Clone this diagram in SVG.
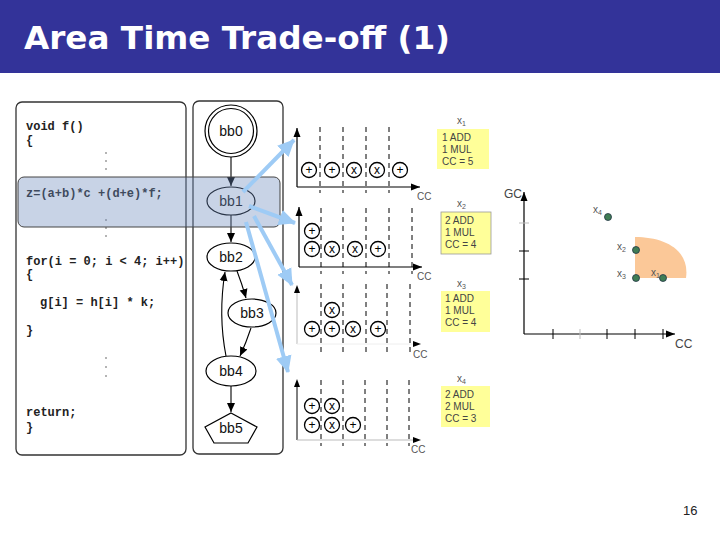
<svg xmlns="http://www.w3.org/2000/svg" width="720" height="540" viewBox="0 0 720 540">
<defs>
<marker id="ah" markerUnits="userSpaceOnUse" markerWidth="10" markerHeight="10" refX="9" refY="5" orient="auto"><path d="M0,1 L9,5 L0,9 Z" fill="#000"/></marker>
<marker id="ax" markerUnits="userSpaceOnUse" markerWidth="10" markerHeight="10" refX="9" refY="5" orient="auto"><path d="M0,1.5 L9,5 L0,8.5 Z" fill="#000"/></marker>
<marker id="bl" markerUnits="userSpaceOnUse" markerWidth="18" markerHeight="18" refX="16" refY="9" orient="auto"><path d="M0,1 L17,9 L0,17 Z" fill="#9ecbf5"/></marker>
</defs>
<style>
.code{font-family:"Liberation Mono","Courier New",monospace;font-size:12px;font-weight:bold;fill:#222}
.dot{fill:#555}
.lbl{font-family:"Liberation Sans",Arial,sans-serif;font-size:14px;fill:#111;text-anchor:middle}
.node{fill:#fff;stroke:#000;stroke-width:1.2}
.edge{fill:none;stroke:#000;stroke-width:1.1;marker-end:url(#ah)}
.blue{fill:none;stroke:#9ecbf5;stroke-width:4;marker-end:url(#bl)}
.dash{stroke:#000;stroke-width:1;stroke-dasharray:5,4}
.axis{stroke:#000;stroke-width:1.2;fill:none}
.op circle{fill:#fff;stroke:#000;stroke-width:1.3}
.op text{font-family:"Liberation Sans",Arial,sans-serif;font-size:12px;text-anchor:middle;fill:#000}
.small{font-family:"Liberation Sans",Arial,sans-serif;font-size:10px;fill:#555}
.box rect{fill:#ffff99}
.box text{font-family:"Liberation Sans",Arial,sans-serif;font-size:10px;fill:#444}
.pt{fill:#3f7d55;stroke:#234;stroke-width:0.8}
</style>
<rect x="0" y="0" width="720" height="73" fill="#333399"/>
<text x="24" y="49" font-family="DejaVu Sans Condensed,DejaVu Sans,Verdana,sans-serif" font-weight="bold" font-size="32" fill="#fff" textLength="426" lengthAdjust="spacingAndGlyphs">Area Time Trade-off (1)</text>

<g id="code">
<rect x="16" y="102" width="170" height="353" rx="6" fill="none" stroke="#333" stroke-width="1.3"/>
<text class="code" x="26" y="130">void f()</text>
<text class="code" x="26" y="144">{</text>
<circle class="dot" cx="106" cy="153" r="0.8"/><circle class="dot" cx="106" cy="161" r="0.8"/><circle class="dot" cx="106" cy="169" r="0.8"/>
<text class="code" x="26" y="197">z=(a+b)*c +(d+e)*f;</text>
<circle class="dot" cx="106" cy="220" r="0.8"/><circle class="dot" cx="106" cy="228" r="0.8"/><circle class="dot" cx="106" cy="236" r="0.8"/>
<text class="code" x="26" y="265">for(i = 0; i &lt; 4; i++)</text>
<text class="code" x="26" y="278">{</text>
<text class="code" x="40" y="306">g[i] = h[i] * k;</text>
<text class="code" x="26" y="334">}</text>
<circle class="dot" cx="106" cy="358" r="0.8"/><circle class="dot" cx="106" cy="367" r="0.8"/><circle class="dot" cx="106" cy="376" r="0.8"/>
<text class="code" x="26" y="416">return;</text>
<text class="code" x="26" y="431">}</text>
</g>

<rect x="193" y="101" width="90" height="353" rx="6" fill="none" stroke="#333" stroke-width="1.3"/>

<g id="connectors">
<line class="edge" x1="231" y1="157" x2="231" y2="186"/>
<line class="edge" x1="231" y1="215" x2="231" y2="242"/>
<path class="edge" d="M237,271 Q242,284 246,298"/>
<path class="edge" d="M251,328 Q246,343 240,356"/>
<path class="edge" d="M226,356 Q218,315 225,272"/>
<line class="edge" x1="231" y1="386" x2="231" y2="412"/>
</g>

<g id="bb0"><circle class="node" cx="231" cy="131" r="26"/><circle class="node" cx="231" cy="131" r="22.5"/><text class="lbl" x="231" y="136">bb0</text></g>
<g id="bb1"><ellipse class="node" cx="231" cy="201" rx="24" ry="14"/><text class="lbl" x="231" y="206">bb1</text></g>
<g id="bb2"><ellipse class="node" cx="231" cy="257" rx="24" ry="14"/><text class="lbl" x="231" y="262">bb2</text></g>
<g id="bb3"><ellipse class="node" cx="252" cy="313" rx="24" ry="14"/><text class="lbl" x="252" y="318">bb3</text></g>
<g id="bb4"><ellipse class="node" cx="231" cy="371" rx="25" ry="15"/><text class="lbl" x="231" y="376">bb4</text></g>
<g id="bb5"><polygon class="node" points="231,413 257,427 248,443 214,443 205,427"/><text class="lbl" x="231" y="433">bb5</text></g>

<rect id="band" x="18" y="177" width="262" height="50" rx="6" fill="rgb(110,140,190)" fill-opacity="0.38" stroke="#444" stroke-width="1"/>

<g id="blue-arrows">
<line class="blue" x1="243" y1="192" x2="294" y2="140"/>
<line class="blue" x1="249" y1="206" x2="295" y2="223"/>
<line class="blue" x1="254" y1="216" x2="292" y2="285"/>
<line class="blue" x1="246" y1="222" x2="288" y2="372"/>
</g>

<g id="chart1">
<line class="dash" x1="320" y1="127" x2="320" y2="193"/>
<line class="dash" x1="343" y1="127" x2="343" y2="193"/>
<line class="dash" x1="366" y1="127" x2="366" y2="193"/>
<line class="dash" x1="389" y1="127" x2="389" y2="193"/>
<line class="axis" x1="297" y1="187" x2="297" y2="128" marker-end="url(#ax)"/>
<line class="axis" x1="297" y1="187" x2="420" y2="187" marker-end="url(#ax)"/>
<g class="op"><circle cx="309" cy="170" r="7.5"/><text x="309" y="174">+</text></g>
<g class="op"><circle cx="332" cy="170" r="7.5"/><text x="332" y="174">+</text></g>
<g class="op"><circle cx="354" cy="170" r="7.5"/><text x="354" y="174">x</text></g>
<g class="op"><circle cx="377" cy="170" r="7.5"/><text x="377" y="174">x</text></g>
<g class="op"><circle cx="400" cy="170" r="7.5"/><text x="400" y="174">+</text></g>
<text class="small" x="417" y="200">CC</text>
</g>

<g id="chart2">
<line class="dash" x1="321" y1="208" x2="321" y2="274"/>
<line class="dash" x1="343" y1="208" x2="343" y2="274"/>
<line class="dash" x1="366" y1="208" x2="366" y2="274"/>
<line class="dash" x1="389" y1="208" x2="389" y2="274"/>
<line class="dash" x1="412" y1="208" x2="412" y2="274"/>
<line class="axis" x1="299" y1="267" x2="299" y2="207" marker-end="url(#ax)"/>
<line class="axis" x1="299" y1="267" x2="422" y2="267" marker-end="url(#ax)"/>
<g class="op"><circle cx="312" cy="231" r="7.5"/><text x="312" y="235">+</text></g>
<g class="op"><circle cx="312" cy="249" r="7.5"/><text x="312" y="253">+</text></g>
<g class="op"><circle cx="332" cy="249" r="7.5"/><text x="332" y="253">x</text></g>
<g class="op"><circle cx="355" cy="249" r="7.5"/><text x="355" y="253">x</text></g>
<g class="op"><circle cx="378" cy="249" r="7.5"/><text x="378" y="253">+</text></g>
<text class="small" x="417" y="280">CC</text>
</g>

<g id="chart3">
<line class="dash" x1="321" y1="284" x2="321" y2="352"/>
<line class="dash" x1="343" y1="284" x2="343" y2="352"/>
<line class="dash" x1="366" y1="284" x2="366" y2="352"/>
<line class="dash" x1="387" y1="284" x2="387" y2="352"/>
<line class="dash" x1="410" y1="284" x2="410" y2="352"/>
<line x1="297" y1="344" x2="297" y2="292" stroke="#bbb" stroke-width="1"/>
<path d="M297,285 L300,293 L294,293 Z" fill="#000"/>
<line x1="297" y1="344" x2="414" y2="344" stroke="#eee" stroke-width="1"/>
<path d="M421,344 L413,341 L413,347 Z" fill="#000"/>
<g class="op"><circle cx="332" cy="310" r="7.5"/><text x="332" y="314">x</text></g>
<g class="op"><circle cx="312" cy="329" r="7.5"/><text x="312" y="333">+</text></g>
<g class="op"><circle cx="332" cy="329" r="7.5"/><text x="332" y="333">+</text></g>
<g class="op"><circle cx="353" cy="329" r="7.5"/><text x="353" y="333">x</text></g>
<g class="op"><circle cx="378" cy="329" r="7.5"/><text x="378" y="333">+</text></g>
<text class="small" x="413" y="358">CC</text>
</g>

<g id="chart4">
<line class="dash" x1="321" y1="380" x2="321" y2="446" stroke="#999"/>
<line class="dash" x1="343" y1="380" x2="343" y2="446" stroke="#999"/>
<line class="dash" x1="365" y1="380" x2="365" y2="446"/>
<line class="dash" x1="387" y1="380" x2="387" y2="446"/>
<line class="dash" x1="409" y1="380" x2="409" y2="446"/>
<line x1="297" y1="440" x2="297" y2="386" stroke="#000" stroke-width="1"/>
<path d="M297,379 L300,387 L294,387 Z" fill="#000"/>
<line x1="297" y1="440" x2="414" y2="440" stroke="#bbb" stroke-width="1"/>
<path d="M421,440 L413,437 L413,443 Z" fill="#000"/>
<g class="op"><circle cx="312" cy="406" r="7.5"/><text x="312" y="410">+</text></g>
<g class="op"><circle cx="332" cy="406" r="7.5"/><text x="332" y="410">x</text></g>
<g class="op"><circle cx="312" cy="425" r="7.5"/><text x="312" y="429">+</text></g>
<g class="op"><circle cx="332" cy="425" r="7.5"/><text x="332" y="429">x</text></g>
<g class="op"><circle cx="353" cy="425" r="7.5"/><text x="353" y="429">+</text></g>
<text class="small" x="411" y="453">CC</text>
</g>

<g id="x1box" class="box">
<text x="457" y="124" class="small" style="fill:#555">x<tspan font-size="7" dy="2">1</tspan></text>
<rect x="437" y="129" width="52" height="40"/>
<text x="442" y="141">1 ADD</text><text x="442" y="153">1 MUL</text><text x="442" y="165">CC = 5</text>
</g>
<g id="x2box" class="box">
<text x="457" y="207" class="small" style="fill:#555">x<tspan font-size="7" dy="2">2</tspan></text>
<rect x="441" y="212" width="50" height="42" stroke="#999" stroke-width="0.8"/>
<text x="445" y="224">2 ADD</text><text x="445" y="236">1 MUL</text><text x="445" y="248">CC = 4</text>
</g>
<g id="x3box" class="box">
<text x="457" y="287" class="small" style="fill:#555">x<tspan font-size="7" dy="2">3</tspan></text>
<rect x="441" y="291" width="49" height="41"/>
<text x="445" y="302">1 ADD</text><text x="445" y="314">1 MUL</text><text x="445" y="326">CC = 4</text>
</g>
<g id="x4box" class="box">
<text x="457" y="382" class="small" style="fill:#555">x<tspan font-size="7" dy="2">4</tspan></text>
<rect x="441" y="386" width="49" height="41"/>
<text x="445" y="398">2 ADD</text><text x="445" y="410">2 MUL</text><text x="445" y="422">CC = 3</text>
</g>

<g id="plot">
<path d="M635,237 C665,237 690,250 686,278 L635,278 Z" fill="#fbc898"/>
<line class="axis" x1="524" y1="334" x2="524" y2="192" marker-end="url(#ax)"/>
<line class="axis" x1="524" y1="334" x2="675" y2="334" marker-end="url(#ax)"/>
<line x1="519" y1="223" x2="529" y2="223" stroke="#bbb"/>
<line x1="519" y1="251" x2="529" y2="251" stroke="#000"/>
<line x1="519" y1="279" x2="529" y2="279" stroke="#000"/>
<line x1="553" y1="329" x2="553" y2="339" stroke="#000"/>
<line x1="580" y1="329" x2="580" y2="339" stroke="#bbb"/>
<line x1="607" y1="329" x2="607" y2="339" stroke="#000"/>
<line x1="635" y1="329" x2="635" y2="339" stroke="#000"/>
<line x1="663" y1="329" x2="663" y2="339" stroke="#000"/>
<text x="504" y="198" font-family="Liberation Sans,Arial,sans-serif" font-size="12" fill="#444">GC</text>
<text x="675" y="348" font-family="Liberation Sans,Arial,sans-serif" font-size="12" fill="#444">CC</text>
<circle class="pt" cx="608" cy="217" r="3.5"/>
<circle class="pt" cx="636" cy="250" r="3.5"/>
<circle class="pt" cx="636" cy="278" r="3.5"/>
<circle class="pt" cx="663" cy="278" r="3.5"/>
<text class="small" x="593" y="213">x<tspan font-size="7" dy="2">4</tspan></text>
<text class="small" x="617" y="250">x<tspan font-size="7" dy="2">2</tspan></text>
<text class="small" x="617" y="277">x<tspan font-size="7" dy="2">3</tspan></text>
<text class="small" x="651" y="276">x<tspan font-size="7" dy="2">1</tspan></text>
</g>

<text x="683" y="515" font-family="Liberation Sans,Arial,sans-serif" font-size="13" fill="#222">16</text>
</svg>
